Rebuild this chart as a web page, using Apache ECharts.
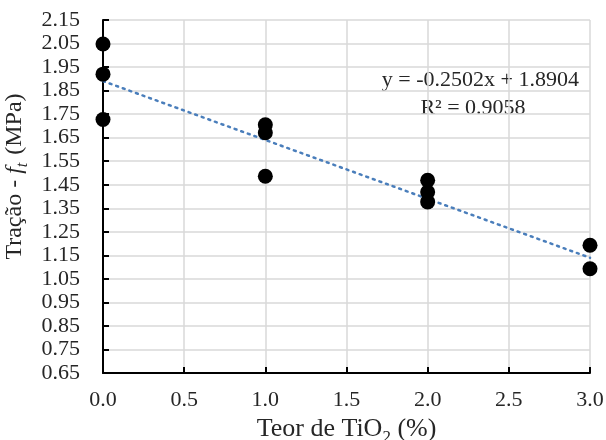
<!DOCTYPE html>
<html>
<head>
<meta charset="utf-8">
<script src="https://cdn.jsdelivr.net/npm/echarts@6/dist/echarts.min.js"></script>
<style>
html,body{margin:0;padding:0;background:#fff}
#chart{width:606px;height:440px}
</style>
</head>
<body>
<div id="chart"></div>
<script>
// teor de TiO2 (%) e tração medida
var teor = [0, 0, 0, 1, 1, 1, 2, 2, 2, 3, 3];
var tracao = [2.048, 1.920, 1.727, 1.705, 1.671, 1.486, 1.469, 1.419, 1.377, 1.193, 1.093];

// linha de tendência (Excel)
var slope = -0.2502;
var intercept = 1.8904;
var trendX = [0, 3];
var eqText = 'y = -0.2502x + 1.8904';
var r2Text = 'R² = 0.9058';

var pontos = [];
for (var i = 0; i < teor.length; i++) {
    pontos.push([teor[i], tracao[i]]);
}
var tendencia = [];
for (var x of trendX) {
    tendencia.push([x, intercept + slope * x]);
}

var serif = 'Liberation Serif';
var cor = '#262626';

var option = {
    animation: false,
    grid: {
        left: 103,
        right: 16,
        top: 20,
        bottom: 67,
        outerBoundsMode: 'none',
        containLabel: false
    },
    xAxis: {
        type: 'value',
        min: 0,
        max: 3,
        interval: 0.5,
        name: '{a|Teor de TiO}{s|2}{a| (%)}',
        nameLocation: 'middle',
        nameGap: 39,
        nameTextStyle: {
            rich: {
                a: {fontFamily: serif, fontSize: 26, color: cor, lineHeight: 28, verticalAlign: 'bottom'},
                s: {fontFamily: serif, fontSize: 17, color: cor, lineHeight: 20, verticalAlign: 'bottom', padding: [0, 0, -4, 0]}
            }
        },
        axisLine: {onZero: false, lineStyle: {color: '#000', width: 2}},
        axisTick: {show: true, inside: true, length: 6, lineStyle: {color: '#000', width: 2}},
        axisLabel: {
            margin: 16,
            fontFamily: serif,
            fontSize: 22,
            color: cor,
            formatter: function (v) { return v.toFixed(1); }
        },
        splitLine: {show: true, lineStyle: {color: '#d9d9d9', width: 1.5}}
    },
    yAxis: {
        type: 'value',
        min: 0.65,
        max: 2.15,
        interval: 0.1,
        name: '{a|Tração - }{f|f}{t|t}{a| (MPa)}',
        nameLocation: 'middle',
        nameGap: 56,
        nameTextStyle: {
            padding: [0, 0, 0, 40],
            rich: {
                a: {fontFamily: serif, fontSize: 24, color: cor, lineHeight: 28, verticalAlign: 'bottom'},
                f: {fontFamily: serif, fontSize: 24, color: cor, fontStyle: 'italic', lineHeight: 28, verticalAlign: 'bottom'},
                t: {fontFamily: serif, fontSize: 16, color: cor, fontStyle: 'italic', lineHeight: 20, verticalAlign: 'bottom', padding: [0, 2, -4, 0]}
            }
        },
        axisLine: {onZero: false, lineStyle: {color: '#000', width: 2}},
        axisTick: {show: true, inside: true, length: 6, lineStyle: {color: '#000', width: 2}},
        axisLabel: {
            margin: 23,
            fontFamily: serif,
            fontSize: 22,
            color: cor,
            formatter: function (v) { return v.toFixed(2); }
        },
        splitLine: {show: true, lineStyle: {color: '#d9d9d9', width: 1.5}}
    },
    series: [
        {
            name: 'tendencia',
            type: 'line',
            data: tendencia,
            symbol: 'none',
            lineStyle: {color: '#4a7ebb', width: 2.5, type: [2, 5], cap: 'round'},
            z: 3
        },
        {
            name: 'tracao',
            type: 'scatter',
            data: pontos,
            symbol: 'circle',
            symbolSize: 15,
            itemStyle: {color: '#000', opacity: 1},
            z: 4
        }
    ],
    graphic: [
        {
            type: 'text',
            x: 579,
            y: 80,
            style: {text: eqText, font: '22px "Liberation Serif"', fill: cor, align: 'right', verticalAlign: 'middle'}
        },
        {
            type: 'text',
            x: 473,
            y: 108,
            style: {text: r2Text, font: '22px "Liberation Serif"', fill: cor, align: 'center', verticalAlign: 'middle'}
        }
    ]
};

var chart = echarts.init(document.getElementById('chart'));
chart.setOption(option);
</script>
</body>
</html>
